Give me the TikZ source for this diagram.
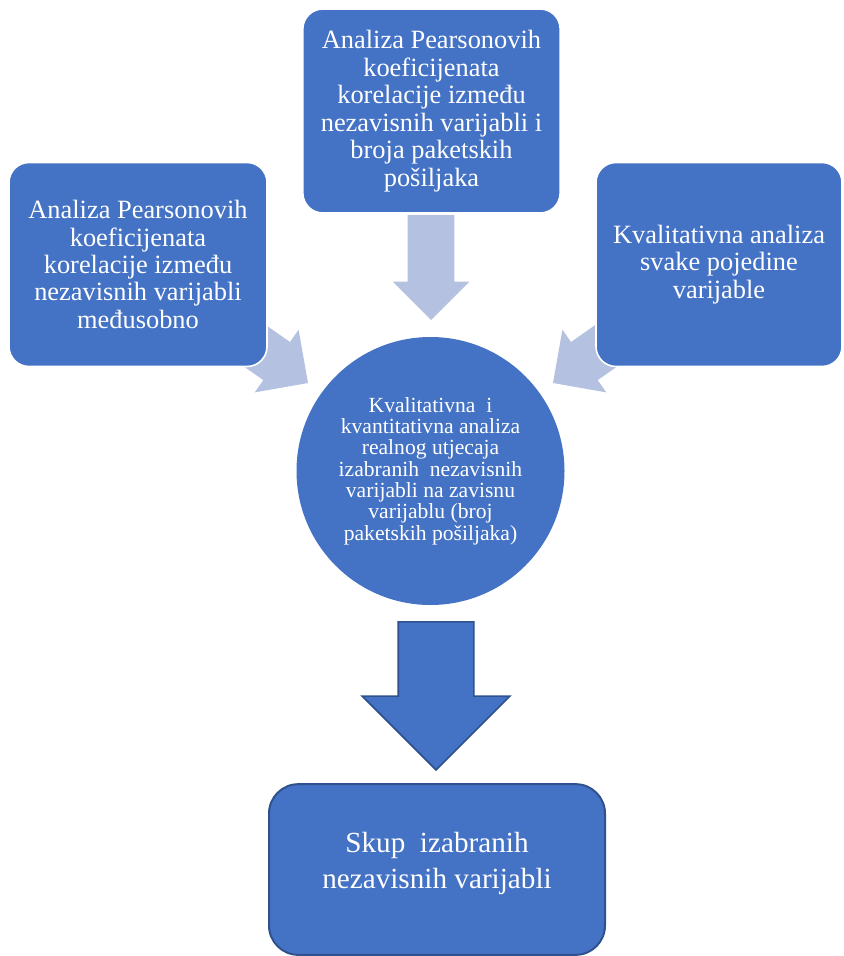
\documentclass[tikz,border=0pt]{standalone}
\usepackage{fontspec}
\setmainfont{Liberation Serif}
\usetikzlibrary{shapes.arrows}
\definecolor{bf}{HTML}{4472C4}
\definecolor{bd}{HTML}{2F528F}
\definecolor{lb}{HTML}{B4C1E1}

\begin{document}
\begin{tikzpicture}[x=0.75pt,y=-0.75pt,
  bx/.style={fill=bf,draw=white,line width=1.2pt,rounded corners=15pt,align=center,text=white,font=\fontsize{19.8}{20.6}\selectfont,minimum height=153pt,inner sep=0pt},
  ga/.style={single arrow,fill=lb,anchor=tip,single arrow head extend=11.25pt,single arrow tip angle=90,minimum height=78.75pt,inner xsep=0pt,inner ysep=17.25pt,outer sep=0pt}]
\useasboundingbox (0,0) rectangle (843,956);
\node[ga,rotate=-90] (ap) at (431,320) {};
\node[ga,rotate=-35] (al) at (308,383) {};
\node[ga,rotate=-145] (ar) at (553,383) {};
\node[bx,minimum width=193pt] (pk) at (431.5,111) {Analiza Pearsonovih\\koeficijenata\\korelacije između\\nezavisnih varijabli i\\broja paketskih\\pošiljaka};
\node[bx,minimum width=193.5pt] (pm) at (138,264.5) {Analiza Pearsonovih\\koeficijenata\\korelacije između\\nezavisnih varijabli\\međusobno};
\node[bx,minimum width=184.5pt] (kv) at (719,264.5) {Kvalitativna analiza\\svake pojedine\\varijable};
\node[circle,fill=bf,minimum size=201pt,inner sep=0pt,align=center,text=white,font=\fontsize{16.2}{16}\selectfont] (c) at (430.5,471) {Kvalitativna~ i\\kvantitativna analiza\\realnog utjecaja\\izabranih~ nezavisnih\\varijabli na zavisnu\\varijablu (broj\\paketskih pošiljaka)};
\node[single arrow,fill=bf,draw=bd,line width=1.2pt,anchor=tip,rotate=-90,single arrow head extend=27pt,single arrow tip angle=90,minimum height=111pt,inner xsep=0pt,inner ysep=27.75pt] (ad) at (436,771) {};
\node[fill=bf,draw=bd,line width=1.5pt,rounded corners=22pt,minimum width=252pt,minimum height=128pt,align=center,text=white,font=\fontsize{21.9}{27}\selectfont] (sk) at (437,869.5) {Skup~ izabranih\\nezavisnih varijabli\\[-14pt]};
\end{tikzpicture}
\end{document}
